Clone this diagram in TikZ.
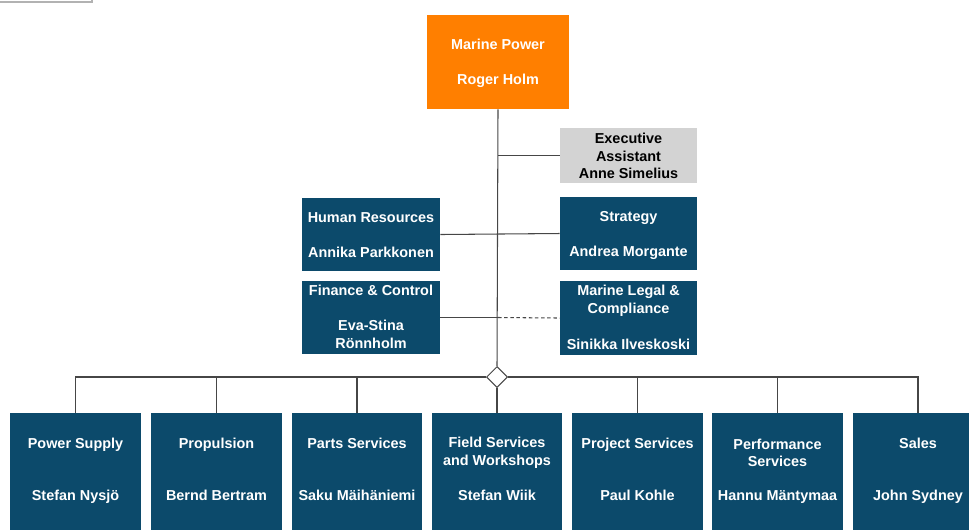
\documentclass[tikz,border=0pt]{standalone}
\usepackage{fontspec}
\setmainfont{Liberation Sans}
\usetikzlibrary{shapes.geometric}
\definecolor{unitblue}{RGB}{12,74,107}
\definecolor{headorange}{RGB}{255,127,0}
\definecolor{assistgray}{RGB}{211,211,211}
\definecolor{linegray}{RGB}{70,70,70}
\tikzset{
  box/.style={fill=unitblue, inner sep=0pt},
  lbl/.style={text=white, font=\fontsize{8.2}{10}\selectfont\bfseries, align=center, inner sep=0pt},
  oneline/.style={lbl, text height=0.72em, text depth=0.2em},
  link/.style={draw=linegray, line width=0.6pt}
}

\begin{document}
\begin{tikzpicture}[x=0.02cm, y=-0.02cm]
		\useasboundingbox (0,0) rectangle (969,529);
		\clip (0,0) rectangle (969,529);
		\draw[gray!60, line width=0.6pt] (0,2) -- (92,2) -- (92,0);

		% head
		\node[box, fill=headorange, minimum width=2.84cm, minimum height=1.88cm] (mp) at (498,62) {};
		\node[oneline] (mpt) at (498,45) {Marine Power};
		\node[oneline] (mpn) at (498,80) {Roger Holm};

		% staff
		\node[box, fill=assistgray, minimum width=2.74cm, minimum height=1.1cm] (ea) at (628.5,155.5) {};
		\node[lbl, text=black] (eat) at (628.5,156) {Executive\\Assistant\\Anne Simelius};

		\node[box, minimum width=2.76cm, minimum height=1.46cm] (hr) at (371,234.5) {};
		\node[oneline] (hrt) at (371,218) {Human Resources};
		\node[oneline] (hrn) at (371,253) {Annika Parkkonen};

		\node[box, minimum width=2.74cm, minimum height=1.46cm] (st) at (628.5,233.5) {};
		\node[oneline] (stt) at (628.5,217) {Strategy};
		\node[oneline] (stn) at (628.5,252) {Andrea Morgante};

		\node[box, minimum width=2.76cm, minimum height=1.46cm] (fc) at (371,317.5) {};
		\node[oneline] (fct) at (371,291) {Finance \& Control};
		\node[lbl] (fcn) at (371,334.5) {Eva-Stina\\Rönnholm};

		\node[box, minimum width=2.74cm, minimum height=1.48cm] (ml) at (628.5,318) {};
		\node[lbl] (mlt) at (628.5,301) {Marine Legal \&\\Compliance};
		\node[oneline] (mln) at (628.5,345) {Sinikka Ilveskoski};

		\node[draw=linegray, fill=white, line width=0.6pt, diamond, inner sep=0pt, minimum size=0.42cm] (hub) at (497,377) {};

		% units
		\node[box, minimum width=2.62cm, minimum height=2.6cm] (u1) at (75.5,478) {};
		\node[oneline] (u1t) at (75.5,444) {Power Supply};
		\node[oneline] (u1n) at (75.5,496) {Stefan Nysjö};

		\node[box, minimum width=2.62cm, minimum height=2.6cm] (u2) at (216.5,478) {};
		\node[oneline] (u2t) at (216.5,444) {Propulsion};
		\node[oneline] (u2n) at (216.5,496) {Bernd Bertram};

		\node[box, minimum width=2.62cm, minimum height=2.6cm] (u3) at (357,478) {};
		\node[oneline] (u3t) at (357,444) {Parts Services};
		\node[oneline] (u3n) at (357,496) {Saku Mäihäniemi};

		\node[box, minimum width=2.62cm, minimum height=2.6cm] (u4) at (497,478) {};
		\node[lbl] (u4t) at (497,453) {Field Services\\and Workshops};
		\node[oneline] (u4n) at (497,496) {Stefan Wiik};

		\node[box, minimum width=2.62cm, minimum height=2.6cm] (u5) at (637.5,478) {};
		\node[oneline] (u5t) at (637.5,444) {Project Services};
		\node[oneline] (u5n) at (637.5,496) {Paul Kohle};

		\node[box, minimum width=2.62cm, minimum height=2.6cm] (u6) at (777.5,478) {};
		\node[lbl] (u6t) at (777.5,453) {Performance\\Services};
		\node[oneline] (u6n) at (777.5,496) {Hannu Mäntymaa};

		\node[box, minimum width=2.62cm, minimum height=2.6cm] (u7) at (918,478) {};
		\node[oneline] (u7t) at (918,444) {Sales};
		\node[oneline] (u7n) at (918,496) {John Sydney};

		% lines
		\draw[link] (mp.south) -- (hub.north);
		\draw[link] (ea.west) -- (ea.west -| mp.south);
		\draw[link] (hr.east) -- (st.west);
		\draw[link] (fc.east) -- (fc.east -| mp.south);
		\draw[link, dashed, dash pattern=on 2pt off 1.5pt] (fc.east -| mp.south) -- (ml.west);
		\draw[link] (hub.west) -| (u1.north);
		\draw[link] (hub.west) -| (u2.north);
		\draw[link] (hub.west) -| (u3.north);
		\draw[link] (hub.south) -- (u4.north);
		\draw[link] (hub.east) -| (u5.north);
		\draw[link] (hub.east) -| (u6.north);
		\draw[link] (hub.east) -| (u7.north);
	\end{tikzpicture}
\end{document}
